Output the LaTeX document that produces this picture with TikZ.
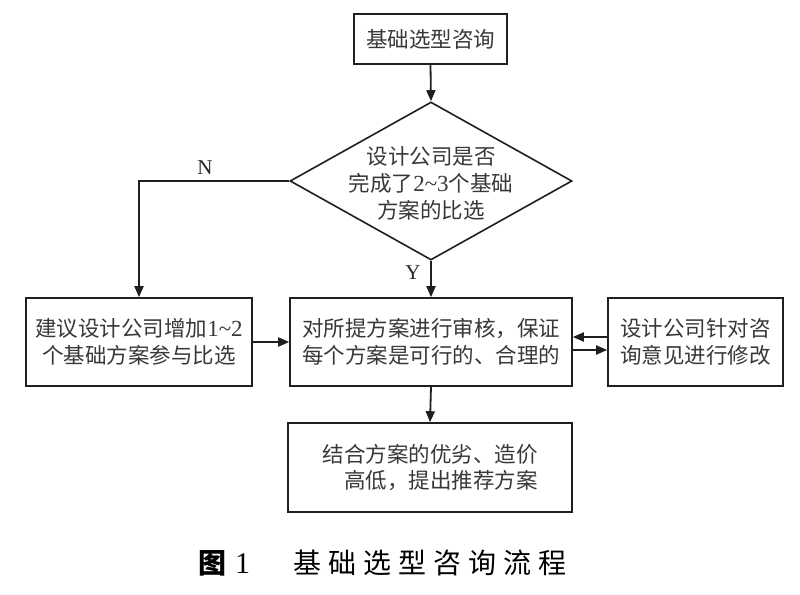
\documentclass[tikz,border=0pt]{standalone}
\usepackage{fontspec}
\setmainfont{Liberation Serif}
\newfontfamily\cjk{Noto Sans CJK SC}
\usetikzlibrary{arrows.meta,shapes.geometric}
\newcommand{\latn}[1]{{\rmfamily\fontsize{23}{26.5}\selectfont #1}}
\begin{document}
\begin{tikzpicture}[x=1pt,y=-1pt,
  box/.style={draw=black!88, line width=1.6pt, inner sep=0pt, text=black!78,
    font=\cjk\fontsize{21.5}{26.5}\selectfont, align=center},
  txt/.style={inner sep=0pt, text=black!78, font=\cjk\fontsize{21.5}{27}\selectfont, align=center},
  lbl/.style={inner sep=0pt, text=black!85, font=\rmfamily\fontsize{21}{22}\selectfont},
  arr/.style={draw=black!88, line width=1.8pt, -{Triangle[length=11pt,width=9pt]}},
]
\useasboundingbox (0,0) rectangle (800,594);
\fill[white] (0,0) rectangle (800,594);

\node[box, minimum width=153pt, minimum height=50pt] (top) at (430.5,39) {基础选型咨询};

\node[draw=black!88, line width=1.6pt, diamond, minimum width=282pt, minimum height=158pt, inner sep=0pt] (dec) at (431,181) {};
\node[txt] (dect) at (431,183) {设计公司是否\\完成了\latn{2\textasciitilde 3}个基础\\方案的比选};

\node[box, minimum width=226pt, minimum height=88pt] (left) at (139,342) {建议设计公司增加\latn{1\textasciitilde 2}\\个基础方案参与比选};
\node[box, minimum width=282pt, minimum height=88pt] (mid) at (431,342) {对所提方案进行审核，保证\\每个方案是可行的、合理的};
\node[box, minimum width=175pt, minimum height=88pt] (right) at (695.5,342) {设计公司针对咨\\询意见进行修改};
\node[box, minimum width=284pt, minimum height=89pt, align=right] (bot) at (430,467.5) {结合方案的优劣、造价\\高低，提出推荐方案};

\draw[arr] (top.south) -- (dec.north);
\draw[arr] (dec.west) -| (left.north);
\draw[arr] (dec.south) -- (mid.north);
\draw[arr] (left.east) -- (mid.west);
\draw[arr] ([yshift=5pt]right.west) -- ([yshift=5pt]mid.east);
\draw[arr] ([yshift=-8pt]mid.east) -- ([yshift=-8pt]right.west);
\draw[arr] (mid.south) -- (bot.north);

\node[lbl] (nlab) at (205,168) {N};
\node[lbl] (ylab) at (413,273) {Y};

\node[inner sep=0pt, text=black, font=\cjk\bfseries\fontsize{28}{30}\selectfont] (capnum) at (224,563) {图\hspace{9pt}{\rmfamily\mdseries\fontsize{30}{30}\selectfont 1}};
\node[inner sep=0pt, text=black, font=\cjk\fontsize{28}{30}\selectfont] (captxt) at (430,563) {基\hspace{7pt}础\hspace{7pt}选\hspace{7pt}型\hspace{7pt}咨\hspace{7pt}询\hspace{7pt}流\hspace{7pt}程};
\end{tikzpicture}
\end{document}
